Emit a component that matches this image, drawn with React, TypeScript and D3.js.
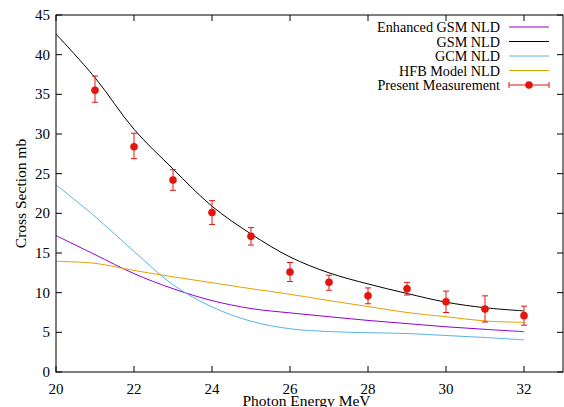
import React from "react";
import * as d3 from "d3";

const energies = [20, 21, 22, 23, 24, 25, 26, 27, 28, 29, 30, 31, 32];
const enhancedGSM = [17.2, 14.8, 12.4, 10.5, 9.0, 8.0, 7.45, 6.97, 6.5, 6.1, 5.7, 5.38, 5.08];
const gsm = [42.6, 37.1, 30.6, 25.6, 20.9, 17.4, 14.5, 12.5, 11.1, 9.9, 8.8, 8.1, 7.7];
const gcm = [23.6, 19.6, 15.2, 11.0, 8.2, 6.4, 5.45, 5.1, 4.95, 4.85, 4.6, 4.35, 4.05];
const hfb = [13.95, 13.7, 12.8, 12.0, 11.25, 10.5, 9.8, 9.0, 8.25, 7.5, 6.97, 6.43, 6.26];

const measEnergy = [21, 22, 23, 24, 25, 26, 27, 28, 29, 30, 31, 32];
const measValue = [35.5, 28.4, 24.2, 20.1, 17.1, 12.6, 11.3, 9.6, 10.5, 8.85, 7.95, 7.1];
const measLow = [34.0, 26.9, 22.9, 18.6, 16.0, 11.4, 10.3, 8.6, 9.7, 7.5, 6.3, 5.9];
const measHigh = [37.3, 30.1, 25.5, 21.6, 18.2, 13.8, 12.2, 10.6, 11.3, 10.2, 9.6, 8.3];

const xTicks = [20, 22, 24, 26, 28, 30, 32];
const yTicks = [0, 5, 10, 15, 20, 25, 30, 35, 40, 45];

const legendLabels = ["Enhanced GSM NLD", "GSM NLD", "GCM NLD", "HFB Model NLD", "Present Measurement"];

const W = 564;
const H = 407;
const FONT = "Liberation Serif";
const RED = "#e3150d";
const txt = { fontFamily: FONT };

export default function App() {
  const x = d3.scaleLinear().domain([20, 33]).range([56, 563]);
  const y = d3.scaleLinear().domain([0, 45]).range([372, 15]);
  const line = d3
    .line<[number, number]>()
    .x((d) => x(d[0]))
    .y((d) => y(d[1]))
    .curve(d3.curveCatmullRom.alpha(0.5));

  const series = [
    { name: legendLabels[0], values: enhancedGSM, color: "#9400d3" },
    { name: legendLabels[1], values: gsm, color: "#000000" },
    { name: legendLabels[2], values: gcm, color: "#56b4e9" },
    { name: legendLabels[3], values: hfb, color: "#e6a000" },
  ];

  const [x0, x1] = x.range();
  const [y0, y1] = y.range();
  const tickLen = 6;
  const legendY = [27, 41.5, 56, 70.5, 85];
  const legTextX = 500;
  const legL = 509;
  const legR = 549;

  return (
    <svg
      width={W}
      height={H}
      style={{ position: "absolute", left: 0, top: 0, background: "#fff" }}
    >
      <rect x={0} y={0} width={W} height={H} fill="#fff" />
      {xTicks.map((t) => (
        <g key={"xt" + t}>
          <line x1={x(t)} x2={x(t)} y1={y0} y2={y0 - tickLen} stroke="#000" />
          <line x1={x(t)} x2={x(t)} y1={y1} y2={y1 + tickLen} stroke="#000" />
          <text x={x(t)} y={394} fontSize={15} textAnchor="middle" style={txt}>
            {t}
          </text>
        </g>
      ))}
      {yTicks.map((t) => (
        <g key={"yt" + t}>
          <line x1={x0} x2={x0 + tickLen} y1={y(t)} y2={y(t)} stroke="#000" />
          <line x1={x1} x2={x1 - tickLen} y1={y(t)} y2={y(t)} stroke="#000" />
          <text x={50} y={y(t) + 5} fontSize={15} textAnchor="end" style={txt}>
            {t}
          </text>
        </g>
      ))}
      {series.map((s) => (
        <path
          key={s.name}
          d={line(energies.map((e, i) => [e, s.values[i]] as [number, number])) || ""}
          fill="none"
          stroke={s.color}
          strokeWidth={1}
        />
      ))}
      {measEnergy.map((e, i) => (
        <g key={"m" + e}>
          <line x1={x(e)} x2={x(e)} y1={y(measLow[i])} y2={y(measHigh[i])} stroke={RED} strokeWidth={1} />
          <line x1={x(e) - 3} x2={x(e) + 3} y1={y(measLow[i])} y2={y(measLow[i])} stroke={RED} strokeWidth={1} />
          <line x1={x(e) - 3} x2={x(e) + 3} y1={y(measHigh[i])} y2={y(measHigh[i])} stroke={RED} strokeWidth={1} />
          <circle cx={x(e)} cy={y(measValue[i])} r={3.8} fill={RED} />
        </g>
      ))}
      <rect x={x0} y={y1} width={x1 - x0} height={y0 - y1} fill="none" stroke="#000" strokeWidth={1} />
      {legendLabels.map((lab, i) => (
        <g key={"lg" + i}>
          <text x={legTextX} y={legendY[i] + 5} fontSize={14.2} textAnchor="end" style={txt}>
            {lab}
          </text>
          {i < 4 ? (
            <line x1={legL} x2={legR} y1={legendY[i]} y2={legendY[i]} stroke={series[i].color} strokeWidth={1} />
          ) : (
            <g>
              <line x1={legL} x2={legR} y1={legendY[i]} y2={legendY[i]} stroke={RED} strokeWidth={1} />
              <line x1={legL} x2={legL} y1={legendY[i] - 3} y2={legendY[i] + 3} stroke={RED} strokeWidth={1} />
              <line x1={legR} x2={legR} y1={legendY[i] - 3} y2={legendY[i] + 3} stroke={RED} strokeWidth={1} />
              <circle cx={(legL + legR) / 2} cy={legendY[i]} r={3.8} fill={RED} />
            </g>
          )}
        </g>
      ))}
      <text x={(x0 + x1) / 2 - 3} y={406} fontSize={15.5} textAnchor="middle" style={txt}>
        Photon Energy MeV
      </text>
      <text
        transform={`translate(26, ${(y0 + y1) / 2}) rotate(-90)`}
        fontSize={15.5}
        textAnchor="middle"
        style={txt}
      >
        Cross Section mb
      </text>
    </svg>
  );
}
